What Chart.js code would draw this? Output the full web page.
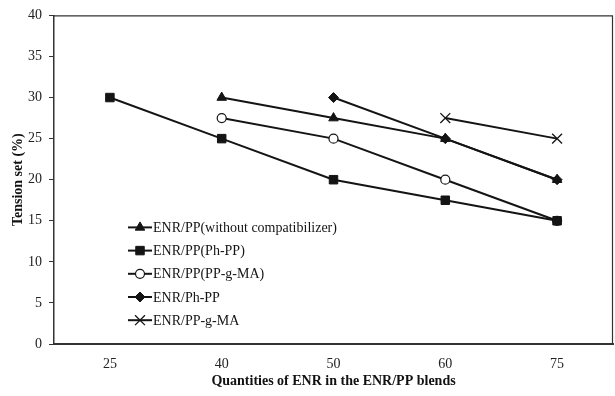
<!DOCTYPE html>
<html>
<head>
<meta charset="utf-8">
<script src="https://cdn.jsdelivr.net/npm/chart.js@4.4.1/dist/chart.umd.min.js"></script>
<style>
  html, body { margin: 0; padding: 0; background: #fff; }
  #wrap { width: 615px; height: 396px; position: relative; }
</style>
</head>
<body>
<div id="wrap"><canvas id="c"></canvas></div>
<script>
// ---- data ----
const categories = ['25', '40', '50', '60', '75'];
const seriesNames = [
  'ENR/PP(without compatibilizer)',
  'ENR/PP(Ph-PP)',
  'ENR/PP(PP-g-MA)',
  'ENR/Ph-PP',
  'ENR/PP-g-MA'
];
const withoutCompatibilizer = [null, 30, 27.5, 25, 20];
const enrPpPhPp = [30, 25, 20, 17.5, 15];
const enrPpPpgMa = [null, 27.5, 25, 20, 15];
const enrPhPp = [null, null, 30, 25, 20];
const enrPpgMa = [null, null, null, 27.5, 25];
const yTicks = [0, 5, 10, 15, 20, 25, 30, 35, 40];
const xTitle = 'Quantities of ENR in the ENR/PP blends';
const yTitle = 'Tension set (%)';

const INK = '#141414';
const SERIF = '"Liberation Serif", "Times New Roman", serif';

function ds(label, data, style, radius, fill, bw) {
  return {
    label: label,
    data: data,
    borderColor: INK,
    borderWidth: 2,
    pointStyle: style,
    pointRadius: radius,
    pointHoverRadius: radius,
    pointBackgroundColor: fill,
    pointBorderColor: INK,
    pointBorderWidth: bw,
    tension: 0,
    fill: false,
    clip: false
  };
}

const datasets = [
  ds(seriesNames[0], withoutCompatibilizer, 'triangle', 5.5, INK, 1),
  ds(seriesNames[1], enrPpPhPp, 'rect', 6, INK, 1),
  ds(seriesNames[2], enrPpPpgMa, 'circle', 4.5, '#fff', 1.2),
  ds(seriesNames[3], enrPhPp, 'rectRot', 5, INK, 1),
  ds(seriesNames[4], enrPpgMa, 'crossRot', 7, INK, 1.3)
];

const framePlugin = {
  id: 'frame',
  beforeDatasetsDraw(chart) {
    const {ctx, chartArea: a} = chart;
    ctx.save();
    ctx.strokeStyle = '#333';
    ctx.lineWidth = 1.2;
    ctx.beginPath();
    ctx.moveTo(a.left, a.top + 0.5);
    ctx.lineTo(a.right - 0.5, a.top + 0.5);
    ctx.lineTo(a.right - 0.5, a.bottom);
    ctx.stroke();
    ctx.restore();
  }
};

const legendPlugin = {
  id: 'innerLegend',
  afterDraw(chart) {
    const {ctx, chartArea: a} = chart;
    const x0 = a.left + 74, y0 = a.top + 212, dy = 23.2;
    ctx.save();
    chart.data.datasets.forEach((d, i) => {
      const y = y0 + i * dy;
      ctx.strokeStyle = INK;
      ctx.lineWidth = 2;
      ctx.beginPath();
      ctx.moveTo(x0, y);
      ctx.lineTo(x0 + 24, y);
      ctx.stroke();
      ctx.fillStyle = d.pointBackgroundColor;
      ctx.strokeStyle = INK;
      ctx.lineWidth = d.pointBorderWidth;
      Chart.helpers.drawPoint(ctx, {
        pointStyle: d.pointStyle,
        radius: d.pointRadius,
        rotation: 0,
        borderWidth: d.pointBorderWidth
      }, x0 + 12, y);
      ctx.fillStyle = INK;
      ctx.font = '14px ' + SERIF;
      ctx.textAlign = 'left';
      ctx.textBaseline = 'middle';
      ctx.fillText(d.label, x0 + 25, y + 1);
    });
    ctx.restore();
  }
};

new Chart(document.getElementById('c'), {
  type: 'line',
  data: { labels: categories, datasets: datasets },
  plugins: [framePlugin, legendPlugin],
  options: {
    responsive: true,
    maintainAspectRatio: false,
    animation: false,
    layout: { autoPadding: false, padding: { top: 14, right: 2, left: 0, bottom: 0 } },
    plugins: {
      legend: { display: false },
      tooltip: { enabled: false }
    },
    scales: {
      x: {
        type: 'category',
        offset: true,
        grid: { display: false },
        border: { display: true, color: '#333', width: 2 },
        ticks: {
          color: '#222',
          padding: 4,
          maxRotation: 0,
          font: { family: SERIF, size: 14 }
        },
        title: {
          display: true,
          text: xTitle,
          color: '#111',
          padding: { top: 0, bottom: 6 },
          font: { family: SERIF, size: 14, weight: 'bold' }
        },
        afterFit(scale) {
          scale.height = 52;
          scale.paddingLeft = 0;
          scale.paddingRight = 0;
        }
      },
      y: {
        min: 0,
        max: 40,
        afterBuildTicks(scale) { scale.ticks = yTicks.map(v => ({ value: v })); },
        grid: {
          display: true,
          drawOnChartArea: false,
          drawTicks: true,
          tickLength: 5,
          color: '#333'
        },
        border: { display: true, color: '#333', width: 1.5 },
        ticks: {
          color: '#222',
          padding: 7,
          font: { family: SERIF, size: 14 }
        },
        title: {
          display: true,
          text: yTitle,
          color: '#111',
          padding: { top: 10, bottom: 0 },
          font: { family: SERIF, size: 14, weight: 'bold' }
        },
        afterFit(scale) { scale.width = 54; }
      }
    }
  }
});
</script>
</body>
</html>
